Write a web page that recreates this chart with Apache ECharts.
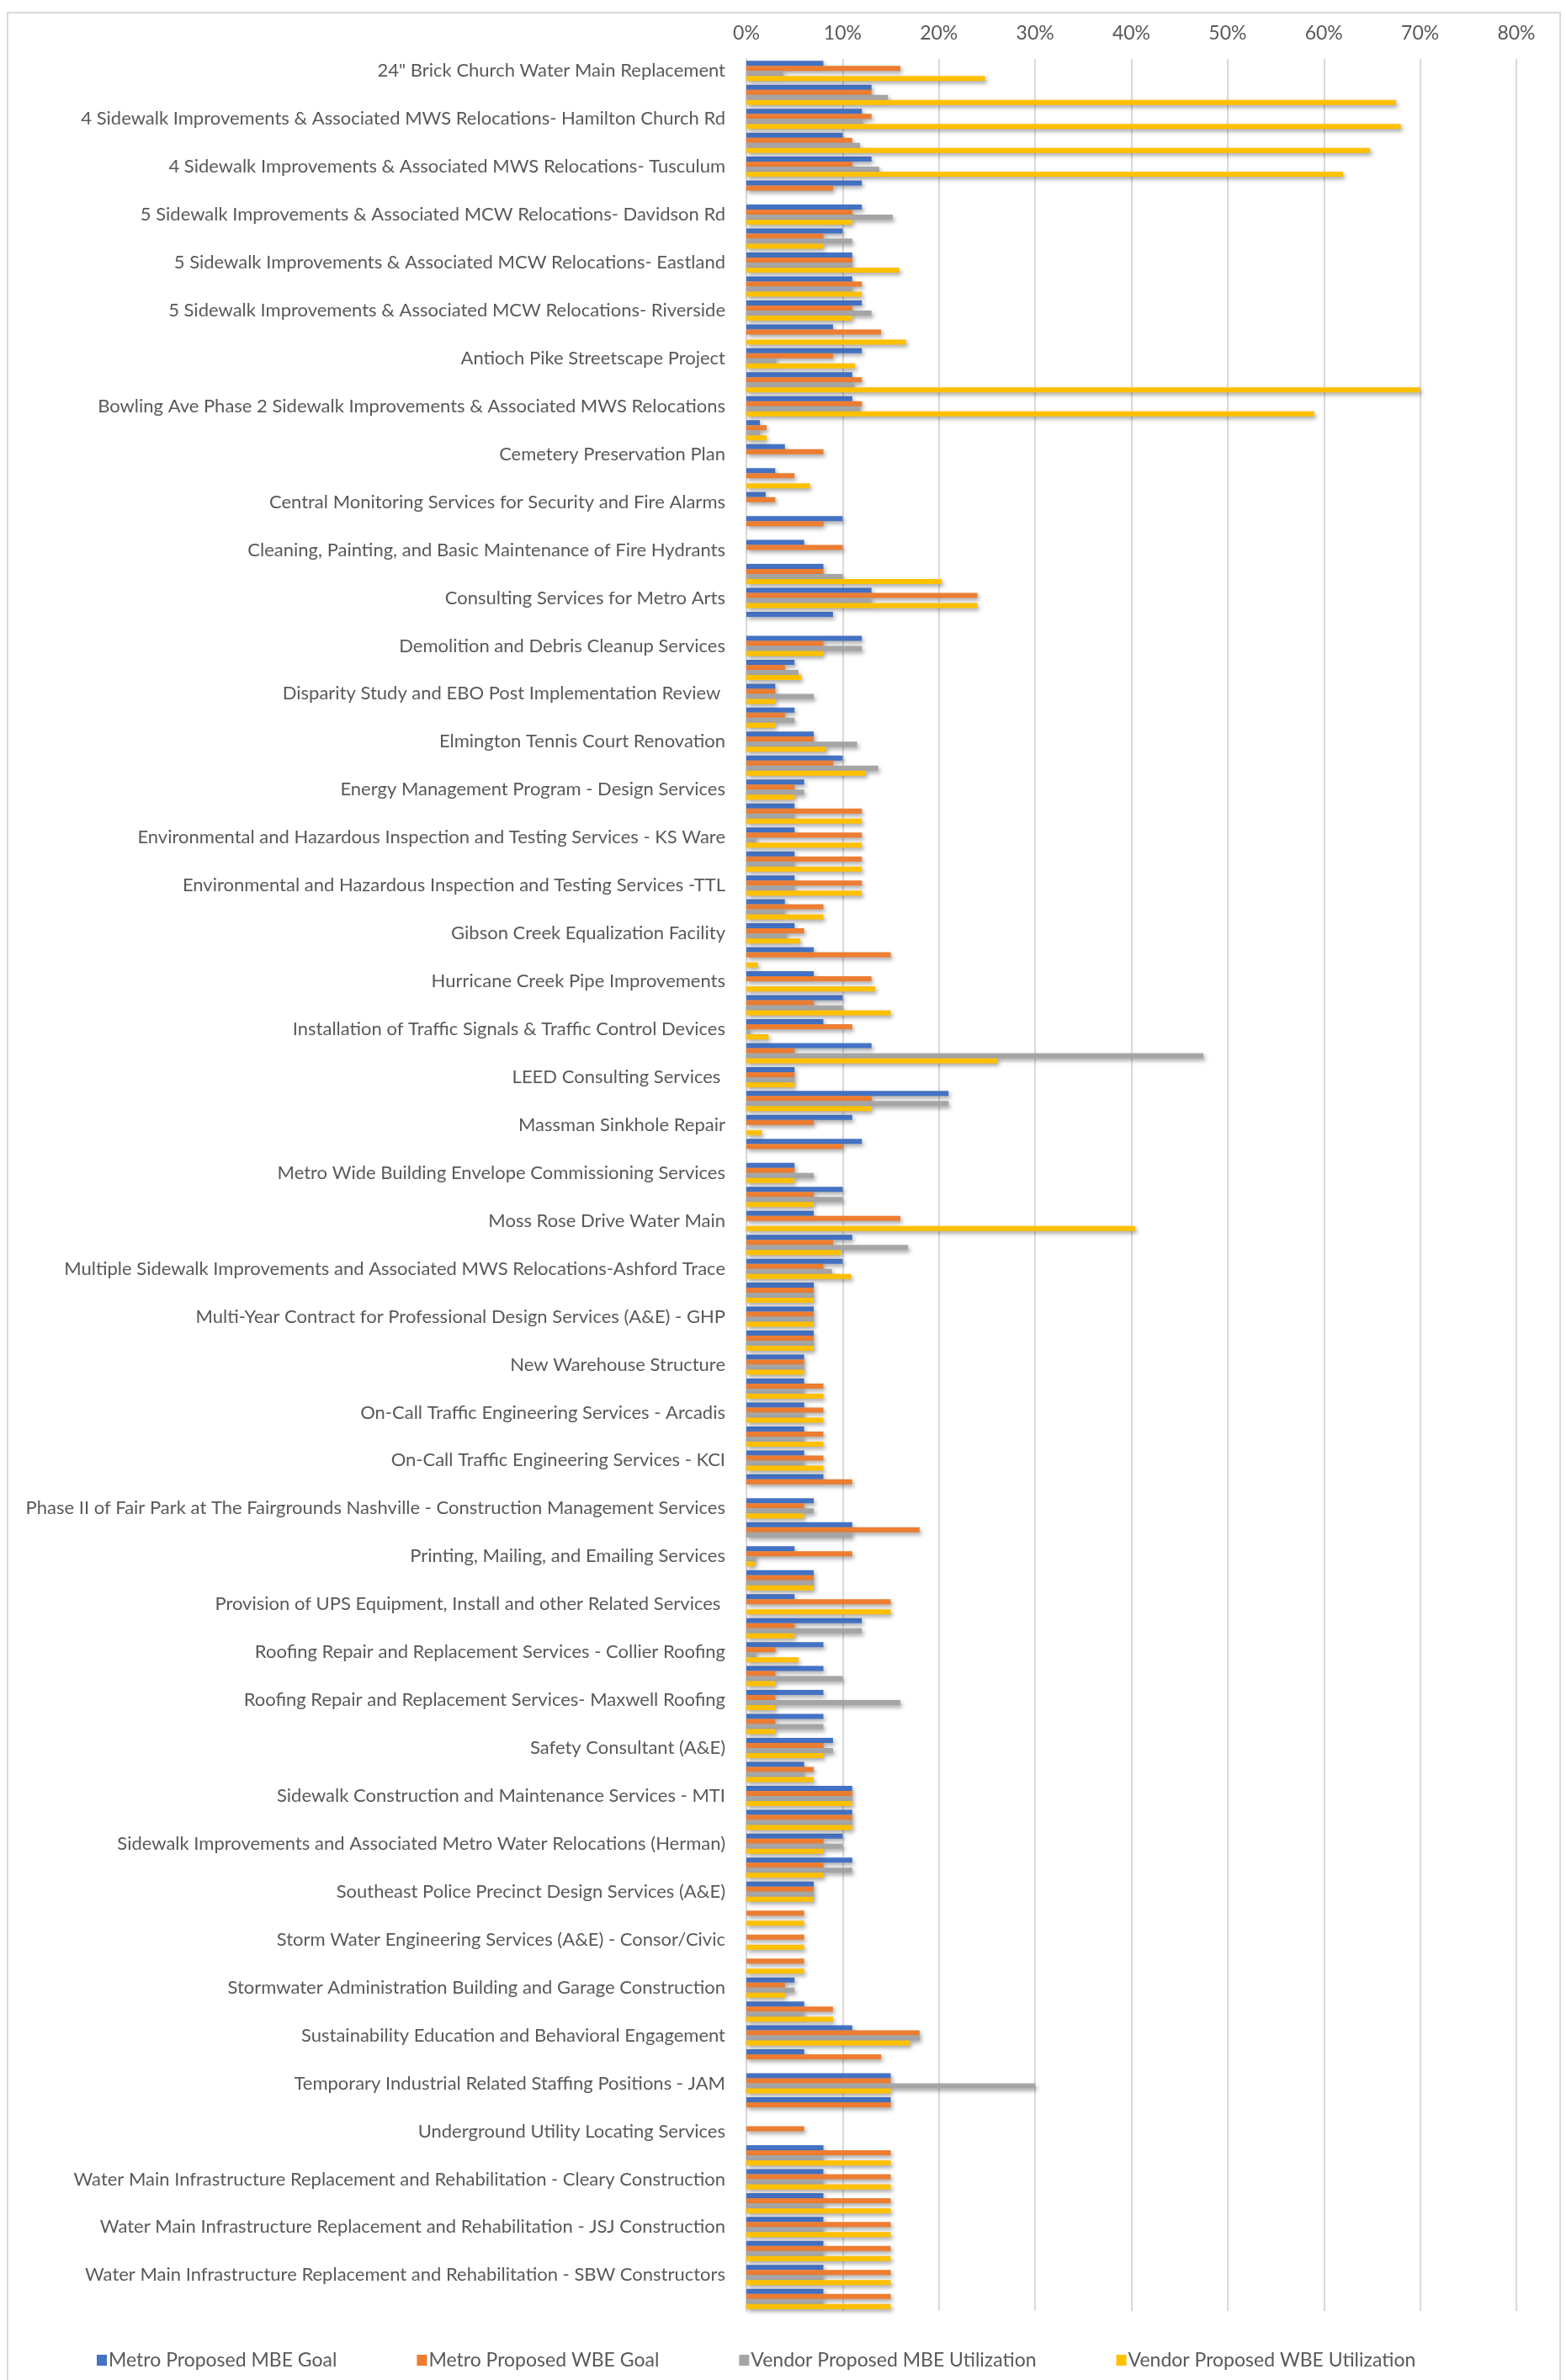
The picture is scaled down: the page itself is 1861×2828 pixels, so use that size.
<!DOCTYPE html>
<html>
<head>
<meta charset="utf-8">
<script src="https://cdn.jsdelivr.net/npm/echarts@6/dist/echarts.min.js"></script>
<style>
  html, body { margin: 0; padding: 0; background: #fff; }
  #chart { width: 1861px; height: 2828px; }
</style>
</head>
<body>
<div id="chart"></div>
<script>
// project names shown on the axis (every other category carries a label)
var shownNames = [
  '24" Brick Church Water Main Replacement',
  '4 Sidewalk Improvements & Associated MWS Relocations- Hamilton Church Rd',
  '4 Sidewalk Improvements & Associated MWS Relocations- Tusculum',
  '5 Sidewalk Improvements & Associated MCW Relocations- Davidson Rd',
  '5 Sidewalk Improvements & Associated MCW Relocations- Eastland',
  '5 Sidewalk Improvements & Associated MCW Relocations- Riverside',
  'Antioch Pike Streetscape Project',
  'Bowling Ave Phase 2 Sidewalk Improvements & Associated MWS Relocations',
  'Cemetery Preservation Plan',
  'Central Monitoring Services for Security and Fire Alarms',
  'Cleaning, Painting, and Basic Maintenance of Fire Hydrants',
  'Consulting Services for Metro Arts',
  'Demolition and Debris Cleanup Services',
  'Disparity Study and EBO Post Implementation Review ',
  'Elmington Tennis Court Renovation',
  'Energy Management Program - Design Services',
  'Environmental and Hazardous Inspection and Testing Services - KS Ware',
  'Environmental and Hazardous Inspection and Testing Services -TTL',
  'Gibson Creek Equalization Facility',
  'Hurricane Creek Pipe Improvements',
  'Installation of Traffic Signals & Traffic Control Devices',
  'LEED Consulting Services ',
  'Massman Sinkhole Repair',
  'Metro Wide Building Envelope Commissioning Services',
  'Moss Rose Drive Water Main',
  'Multiple Sidewalk Improvements and Associated MWS Relocations-Ashford Trace',
  'Multi-Year Contract for Professional Design Services (A&E) - GHP',
  'New Warehouse Structure',
  'On-Call Traffic Engineering Services - Arcadis',
  'On-Call Traffic Engineering Services - KCI',
  'Phase II of Fair Park at The Fairgrounds Nashville - Construction Management Services',
  'Printing, Mailing, and Emailing Services',
  'Provision of UPS Equipment, Install and other Related Services ',
  'Roofing Repair and Replacement Services - Collier Roofing',
  'Roofing Repair and Replacement Services- Maxwell Roofing',
  'Safety Consultant (A&E)',
  'Sidewalk Construction and Maintenance Services - MTI',
  'Sidewalk Improvements and Associated Metro Water Relocations (Herman)',
  'Southeast Police Precinct Design Services (A&E)',
  'Storm Water Engineering Services (A&E) - Consor/Civic',
  'Stormwater Administration Building and Garage Construction',
  'Sustainability Education and Behavioral Engagement',
  'Temporary Industrial Related Staffing Positions - JAM',
  'Underground Utility Locating Services',
  'Water Main Infrastructure Replacement and Rehabilitation - Cleary Construction',
  'Water Main Infrastructure Replacement and Rehabilitation - JSJ Construction',
  'Water Main Infrastructure Replacement and Rehabilitation - SBW Constructors'
];
// the unlabeled rows in between get their own (hidden) entries
var categories = [];
shownNames.forEach(function (n) {
  categories.push(n);
  categories.push(n + ' (2)');
});

var seriesNames = ['Metro Proposed MBE Goal', 'Metro Proposed WBE Goal',
  'Vendor Proposed MBE Utilization', 'Vendor Proposed WBE Utilization'];

var metroMBE = [8, 13, 12, 10, 13, 12, 12, 10, 11, 11, 12, 9, 12, 11, 11, 1.4, 4, 3, 2, 10,
  6, 8, 13, 9, 12, 5, 3, 5, 7, 10, 6, 5, 5, 5, 5, 4, 5, 7, 7, 10,
  8, 13, 5, 21, 11, 12, 5, 10, 7, 11, 10, 7, 7, 7, 6, 6, 6, 6, 6, 8,
  7, 11, 5, 7, 5, 12, 8, 8, 8, 8, 9, 6, 11, 11, 10, 11, 7, 0, 0, 0,
  5, 6, 11, 6, 15, 15, 0, 8, 8, 8, 8, 8, 8, 8];
var metroWBE = [16, 13, 13, 11, 11, 9, 11, 8, 11, 12, 11, 14, 9, 12, 12, 2.1, 8, 5, 3, 8,
  10, 8, 24, 0, 8, 4, 3, 4, 7, 9, 5, 12, 12, 12, 12, 8, 6, 15, 13, 7,
  11, 5, 5, 13, 7, 10, 5, 7, 16, 9, 8, 7, 7, 7, 6, 8, 8, 8, 8, 11,
  6, 18, 11, 7, 15, 5, 3, 3, 3, 3, 8, 7, 11, 11, 8, 8, 7, 6, 6, 6,
  4, 9, 18, 14, 15, 15, 6, 15, 15, 15, 15, 15, 15, 15];
var vendorMBE = [3.8, 14.7, 12.1, 11.8, 13.8, 0, 15.2, 11, 11, 11, 13, 0, 3.1, 11.2, 11.8, 1.4, 0, 0, 0, 0,
  0, 10, 13, 0, 12, 5.4, 7, 5, 11.5, 13.7, 6, 5, 1, 5, 5, 4, 4.2, 0, 0, 10,
  0.4, 47.5, 5, 21, 0, 0, 7, 10, 0, 16.8, 8.9, 7, 7, 7, 6, 6, 6, 6, 6, 0,
  7, 11, 1, 7, 0, 12, 1, 10, 16, 8, 9, 6, 11, 11, 10, 11, 7, 0, 0, 0,
  5, 6, 18, 0, 30, 0, 0, 8, 8, 8, 8, 8, 8, 8];
var vendorWBE = [24.8, 67.5, 68, 64.8, 62, 0, 11, 8, 15.9, 12, 11, 16.6, 11.3, 70, 59, 2.1, 0, 6.6, 0, 0,
  0, 20.3, 24, 0, 8, 5.7, 3, 3, 8.3, 12.4, 5, 12, 12, 12, 12, 8, 5.6, 1.2, 13.4, 15,
  2.3, 26.1, 5, 13, 1.6, 0, 5, 7, 40.4, 9.8, 10.9, 7, 7, 7, 6, 8, 8, 8, 8, 0,
  6, 0, 0.9, 7, 15, 5, 5.4, 3, 3, 3, 8, 7, 11, 11, 8, 8, 7, 6, 6, 6,
  4, 9, 17, 0, 15, 0, 0, 15, 15, 15, 15, 15, 15, 15];

var colors = ['#4472C4', '#ED7D31', '#A5A5A5', '#FFC000'];
var values = [metroMBE, metroWBE, vendorMBE, vendorWBE];

var chart = echarts.init(document.getElementById('chart'));

var series = seriesNames.map(function (name, i) {
  return {
    name: name,
    type: 'bar',
    barWidth: 6,
    barGap: '0%',
    itemStyle: {
      color: colors[i],
      shadowColor: 'rgba(0,0,0,0.35)',
      shadowBlur: 5,
      shadowOffsetX: 2,
      shadowOffsetY: 3
    },
    data: values[i]
  };
});

var option = {
  animation: false,
  backgroundColor: '#fff',
  textStyle: { fontFamily: 'Lato' },
  graphic: [{
    type: 'rect',
    shape: { x: 9, y: 15, width: 1845, height: 2840 },
    style: { fill: 'none', stroke: '#d9d9d9', lineWidth: 2 },
    silent: true
  }],
  legend: {
    data: seriesNames,
    left: 110,
    top: 2788,
    icon: 'rect',
    itemWidth: 12,
    itemHeight: 13,
    itemGap: 95,
    textStyle: { fontFamily: 'Lato', fontSize: 23, color: '#595959', padding: [0, 0, 0, -3] }
  },
  grid: {
    left: 887,
    right: 59,
    top: 70,
    bottom: 82,
    containLabel: false
  },
  xAxis: {
    type: 'value',
    position: 'top',
    min: 0,
    max: 80,
    interval: 10,
    axisLine: { show: false },
    axisTick: { show: false },
    axisLabel: {
      formatter: '{value}%',
      fontFamily: 'Lato',
      fontSize: 23,
      color: '#595959',
      margin: 19
    },
    splitLine: { lineStyle: { color: '#d9d9d9', width: 2 } }
  },
  yAxis: {
    type: 'category',
    inverse: true,
    data: categories,
    axisTick: { show: false },
    axisLine: { lineStyle: { color: '#d9d9d9', width: 2 } },
    axisLabel: {
      interval: 1,
      fontFamily: 'Lato',
      fontSize: 22,
      color: '#595959',
      margin: 25
    }
  },
  series: series
};

chart.setOption(option);
</script>
</body>
</html>
